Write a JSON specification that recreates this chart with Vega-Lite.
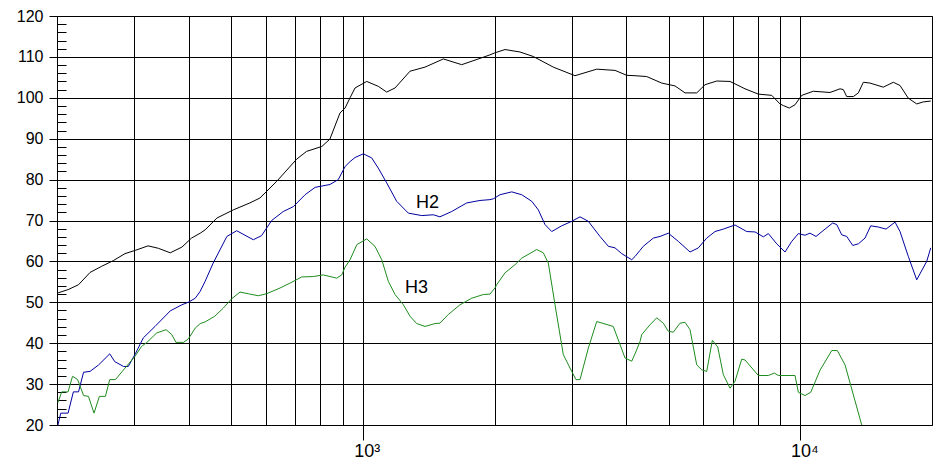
{
  "$schema": "https://vega.github.io/schema/vega-lite/v6.json",
  "width": 875,
  "height": 409,
  "autosize": {"type": "none"},
  "padding": {"left": 57, "top": 16, "right": 13, "bottom": 46},
  "background": "white",
  "config": {"view": {"stroke": "black", "strokeWidth": 1}, "font": "Liberation Sans"},
  "datasets": {
    "curves": [
      {"s":"main","f":201,"db":52.3},{"s":"main","f":212,"db":53.1},{"s":"main","f":224,"db":54.3},{"s":"main","f":238,"db":57.3},{"s":"main","f":253,"db":58.8},{"s":"main","f":269,"db":60.2},{"s":"main","f":286,"db":61.9},{"s":"main","f":302,"db":62.7},{"s":"main","f":323,"db":63.8},{"s":"main","f":341,"db":63.2},{"s":"main","f":363,"db":62.1},{"s":"main","f":386,"db":63.5},{"s":"main","f":406,"db":65.7},{"s":"main","f":425,"db":66.9},{"s":"main","f":436,"db":67.7},{"s":"main","f":464,"db":70.6},{"s":"main","f":506,"db":72.6},{"s":"main","f":552,"db":74.3},{"s":"main","f":582,"db":75.5},{"s":"main","f":636,"db":79.6},{"s":"main","f":706,"db":85.0},{"s":"main","f":744,"db":86.9},{"s":"main","f":806,"db":88.1},{"s":"main","f":841,"db":89.9},{"s":"main","f":887,"db":96.3},{"s":"main","f":911,"db":97.5},{"s":"main","f":935,"db":100.0},{"s":"main","f":960,"db":102.4},{"s":"main","f":1021,"db":104.0},{"s":"main","f":1085,"db":102.8},{"s":"main","f":1134,"db":101.4},{"s":"main","f":1185,"db":102.4},{"s":"main","f":1282,"db":106.5},{"s":"main","f":1387,"db":107.5},{"s":"main","f":1528,"db":109.5},{"s":"main","f":1683,"db":108.1},{"s":"main","f":1837,"db":109.5},{"s":"main","f":1953,"db":110.5},{"s":"main","f":2005,"db":111.0},{"s":"main","f":2114,"db":111.8},{"s":"main","f":2287,"db":111.2},{"s":"main","f":2453,"db":110.1},{"s":"main","f":2726,"db":107.5},{"s":"main","f":3055,"db":105.4},{"s":"main","f":3425,"db":107.0},{"s":"main","f":3772,"db":106.7},{"s":"main","f":4011,"db":105.5},{"s":"main","f":4190,"db":105.4},{"s":"main","f":4456,"db":105.2},{"s":"main","f":4822,"db":103.6},{"s":"main","f":5172,"db":102.9},{"s":"main","f":5452,"db":101.2},{"s":"main","f":5798,"db":101.2},{"s":"main","f":6057,"db":103.2},{"s":"main","f":6441,"db":104.1},{"s":"main","f":6908,"db":104.0},{"s":"main","f":7476,"db":102.2},{"s":"main","f":8018,"db":100.9},{"s":"main","f":8604,"db":100.6},{"s":"main","f":8988,"db":98.5},{"s":"main","f":9145,"db":98.1},{"s":"main","f":9439,"db":97.5},{"s":"main","f":9726,"db":98.3},{"s":"main","f":10075,"db":100.6},{"s":"main","f":10709,"db":101.6},{"s":"main","f":11693,"db":101.3},{"s":"main","f":12325,"db":102.2},{"s":"main","f":12541,"db":102.0},{"s":"main","f":12768,"db":100.3},{"s":"main","f":13219,"db":100.3},{"s":"main","f":13572,"db":101.2},{"s":"main","f":13934,"db":103.8},{"s":"main","f":14434,"db":103.6},{"s":"main","f":15480,"db":102.6},{"s":"main","f":16317,"db":103.8},{"s":"main","f":16902,"db":103.0},{"s":"main","f":17657,"db":99.9},{"s":"main","f":18455,"db":98.5},{"s":"main","f":19108,"db":99.0},{"s":"main","f":19866,"db":99.2},

      {"s":"H2","f":201,"db":20.0},{"s":"H2","f":204,"db":22.9},{"s":"H2","f":212,"db":22.9},{"s":"H2","f":218,"db":28.1},{"s":"H2","f":224,"db":28.1},{"s":"H2","f":230,"db":32.9},{"s":"H2","f":238,"db":33.1},{"s":"H2","f":249,"db":34.7},{"s":"H2","f":264,"db":37.4},{"s":"H2","f":271,"db":35.5},{"s":"H2","f":284,"db":34.3},{"s":"H2","f":291,"db":34.3},{"s":"H2","f":302,"db":37.4},{"s":"H2","f":315,"db":41.3},{"s":"H2","f":335,"db":44.1},{"s":"H2","f":363,"db":47.9},{"s":"H2","f":386,"db":49.4},{"s":"H2","f":399,"db":50.0},{"s":"H2","f":414,"db":51.0},{"s":"H2","f":425,"db":52.7},{"s":"H2","f":436,"db":55.1},{"s":"H2","f":455,"db":59.6},{"s":"H2","f":489,"db":66.1},{"s":"H2","f":515,"db":67.5},{"s":"H2","f":562,"db":65.3},{"s":"H2","f":587,"db":66.3},{"s":"H2","f":619,"db":70.0},{"s":"H2","f":658,"db":72.2},{"s":"H2","f":694,"db":73.4},{"s":"H2","f":738,"db":76.3},{"s":"H2","f":778,"db":78.1},{"s":"H2","f":841,"db":78.8},{"s":"H2","f":879,"db":80.0},{"s":"H2","f":911,"db":83.2},{"s":"H2","f":935,"db":84.4},{"s":"H2","f":960,"db":85.4},{"s":"H2","f":1003,"db":86.3},{"s":"H2","f":1048,"db":85.3},{"s":"H2","f":1085,"db":82.8},{"s":"H2","f":1134,"db":79.2},{"s":"H2","f":1195,"db":74.7},{"s":"H2","f":1271,"db":71.8},{"s":"H2","f":1364,"db":71.2},{"s":"H2","f":1449,"db":71.4},{"s":"H2","f":1501,"db":70.9},{"s":"H2","f":1597,"db":72.2},{"s":"H2","f":1728,"db":74.3},{"s":"H2","f":1853,"db":74.9},{"s":"H2","f":1953,"db":75.1},{"s":"H2","f":1987,"db":75.3},{"s":"H2","f":2059,"db":76.3},{"s":"H2","f":2190,"db":77.0},{"s":"H2","f":2308,"db":76.3},{"s":"H2","f":2433,"db":74.7},{"s":"H2","f":2519,"db":72.6},{"s":"H2","f":2609,"db":69.0},{"s":"H2","f":2703,"db":67.3},{"s":"H2","f":2849,"db":68.7},{"s":"H2","f":3003,"db":69.8},{"s":"H2","f":3137,"db":70.9},{"s":"H2","f":3277,"db":69.8},{"s":"H2","f":3485,"db":66.1},{"s":"H2","f":3641,"db":63.7},{"s":"H2","f":3772,"db":63.3},{"s":"H2","f":3907,"db":61.9},{"s":"H2","f":4118,"db":60.4},{"s":"H2","f":4190,"db":61.2},{"s":"H2","f":4302,"db":62.7},{"s":"H2","f":4377,"db":63.7},{"s":"H2","f":4614,"db":65.7},{"s":"H2","f":4779,"db":66.1},{"s":"H2","f":4993,"db":66.9},{"s":"H2","f":5262,"db":64.9},{"s":"H2","f":5597,"db":62.3},{"s":"H2","f":5847,"db":63.3},{"s":"H2","f":6111,"db":65.7},{"s":"H2","f":6384,"db":67.3},{"s":"H2","f":6669,"db":67.9},{"s":"H2","f":7092,"db":68.9},{"s":"H2","f":7543,"db":67.3},{"s":"H2","f":7881,"db":67.2},{"s":"H2","f":8233,"db":66.0},{"s":"H2","f":8452,"db":66.8},{"s":"H2","f":8834,"db":64.3},{"s":"H2","f":8988,"db":63.5},{"s":"H2","f":9229,"db":62.3},{"s":"H2","f":9560,"db":64.9},{"s":"H2","f":9898,"db":66.8},{"s":"H2","f":10253,"db":66.4},{"s":"H2","f":10526,"db":66.9},{"s":"H2","f":10864,"db":66.1},{"s":"H2","f":11391,"db":67.9},{"s":"H2","f":11862,"db":69.4},{"s":"H2","f":12114,"db":69.0},{"s":"H2","f":12437,"db":66.5},{"s":"H2","f":12768,"db":66.1},{"s":"H2","f":13178,"db":63.9},{"s":"H2","f":13572,"db":64.3},{"s":"H2","f":14059,"db":65.7},{"s":"H2","f":14487,"db":68.7},{"s":"H2","f":15078,"db":68.4},{"s":"H2","f":15702,"db":67.9},{"s":"H2","f":16464,"db":69.6},{"s":"H2","f":16902,"db":67.3},{"s":"H2","f":17657,"db":61.2},{"s":"H2","f":18455,"db":55.5},{"s":"H2","f":19451,"db":60.0},{"s":"H2","f":19866,"db":63.3},

      {"s":"H3","f":201,"db":25.5},{"s":"H3","f":205,"db":28.1},{"s":"H3","f":212,"db":28.1},{"s":"H3","f":217,"db":31.9},{"s":"H3","f":223,"db":31.1},{"s":"H3","f":230,"db":27.2},{"s":"H3","f":236,"db":27.0},{"s":"H3","f":243,"db":22.9},{"s":"H3","f":250,"db":27.0},{"s":"H3","f":258,"db":27.0},{"s":"H3","f":264,"db":31.1},{"s":"H3","f":272,"db":31.1},{"s":"H3","f":286,"db":33.9},{"s":"H3","f":302,"db":36.9},{"s":"H3","f":312,"db":39.2},{"s":"H3","f":321,"db":40.2},{"s":"H3","f":338,"db":42.5},{"s":"H3","f":355,"db":43.3},{"s":"H3","f":366,"db":42.1},{"s":"H3","f":374,"db":40.2},{"s":"H3","f":389,"db":40.2},{"s":"H3","f":399,"db":41.0},{"s":"H3","f":414,"db":43.7},{"s":"H3","f":425,"db":44.8},{"s":"H3","f":436,"db":45.2},{"s":"H3","f":459,"db":46.6},{"s":"H3","f":480,"db":48.6},{"s":"H3","f":502,"db":50.9},{"s":"H3","f":524,"db":52.5},{"s":"H3","f":547,"db":52.1},{"s":"H3","f":577,"db":51.6},{"s":"H3","f":603,"db":52.1},{"s":"H3","f":647,"db":53.5},{"s":"H3","f":682,"db":54.7},{"s":"H3","f":725,"db":56.2},{"s":"H3","f":771,"db":56.3},{"s":"H3","f":812,"db":56.7},{"s":"H3","f":872,"db":55.9},{"s":"H3","f":895,"db":56.7},{"s":"H3","f":911,"db":58.6},{"s":"H3","f":935,"db":60.4},{"s":"H3","f":969,"db":64.1},{"s":"H3","f":1021,"db":65.5},{"s":"H3","f":1066,"db":63.7},{"s":"H3","f":1105,"db":60.4},{"s":"H3","f":1144,"db":55.1},{"s":"H3","f":1185,"db":51.9},{"s":"H3","f":1238,"db":49.4},{"s":"H3","f":1282,"db":46.6},{"s":"H3","f":1328,"db":44.8},{"s":"H3","f":1387,"db":44.1},{"s":"H3","f":1462,"db":44.8},{"s":"H3","f":1501,"db":44.9},{"s":"H3","f":1568,"db":47.0},{"s":"H3","f":1668,"db":49.4},{"s":"H3","f":1774,"db":51.0},{"s":"H3","f":1886,"db":51.9},{"s":"H3","f":1953,"db":52.0},{"s":"H3","f":2005,"db":53.5},{"s":"H3","f":2023,"db":54.3},{"s":"H3","f":2114,"db":57.2},{"s":"H3","f":2228,"db":59.2},{"s":"H3","f":2308,"db":60.8},{"s":"H3","f":2498,"db":62.9},{"s":"H3","f":2586,"db":62.1},{"s":"H3","f":2655,"db":59.6},{"s":"H3","f":2750,"db":49.4},{"s":"H3","f":2873,"db":37.2},{"s":"H3","f":3003,"db":33.1},{"s":"H3","f":3071,"db":31.1},{"s":"H3","f":3137,"db":31.1},{"s":"H3","f":3277,"db":38.8},{"s":"H3","f":3425,"db":45.3},{"s":"H3","f":3737,"db":44.1},{"s":"H3","f":3975,"db":36.4},{"s":"H3","f":4118,"db":35.6},{"s":"H3","f":4190,"db":37.4},{"s":"H3","f":4302,"db":40.4},{"s":"H3","f":4340,"db":42.1},{"s":"H3","f":4534,"db":44.5},{"s":"H3","f":4697,"db":46.2},{"s":"H3","f":4863,"db":44.9},{"s":"H3","f":4993,"db":42.9},{"s":"H3","f":5126,"db":42.7},{"s":"H3","f":5310,"db":44.9},{"s":"H3","f":5452,"db":45.1},{"s":"H3","f":5597,"db":43.3},{"s":"H3","f":5798,"db":34.7},{"s":"H3","f":5952,"db":33.5},{"s":"H3","f":6111,"db":33.1},{"s":"H3","f":6294,"db":40.7},{"s":"H3","f":6475,"db":39.1},{"s":"H3","f":6669,"db":32.3},{"s":"H3","f":6908,"db":29.0},{"s":"H3","f":7092,"db":30.7},{"s":"H3","f":7348,"db":36.1},{"s":"H3","f":7476,"db":35.9},{"s":"H3","f":8018,"db":32.1},{"s":"H3","f":8452,"db":32.1},{"s":"H3","f":8723,"db":32.7},{"s":"H3","f":8909,"db":32.1},{"s":"H3","f":9726,"db":32.1},{"s":"H3","f":9898,"db":28.0},{"s":"H3","f":10253,"db":27.2},{"s":"H3","f":10565,"db":28.0},{"s":"H3","f":11095,"db":33.4},{"s":"H3","f":11800,"db":38.2},{"s":"H3","f":12153,"db":38.2},{"s":"H3","f":12655,"db":34.7},{"s":"H3","f":13817,"db":20.0}
    ],
    "labels": [
      {"s": "H2", "f": 1406, "db": 74.2},
      {"s": "H3", "f": 1327, "db": 53.6}
    ]
  },
  "layer": [
    {
      "data": {"name": "curves"},
      "mark": {"type": "line", "strokeWidth": 1, "clip": true},
      "encoding": {
        "x": {
          "field": "f", "type": "quantitative",
          "scale": {"type": "log", "domain": [200, 20000], "nice": false},
          "axis": {
            "orient": "bottom",
            "values": [300, 400, 500, 600, 700, 800, 900, 1000, 2000, 3000, 4000, 5000, 6000, 7000, 8000, 9000, 10000],
            "grid": true, "gridColor": "black", "gridOpacity": 1, "gridWidth": 1,
            "domain": false, "title": null,
            "labelExpr": "datum.value == 1000 ? '10³' : (datum.value == 10000 ? '10⁴' : '')",
            "labelFont": "Liberation Sans", "labelFontSize": 18, "labelColor": "black",
            "labelPadding": 2, "labelOffset": 4, "labelFlush": false, "labelOverlap": false,
            "tickSize": 15, "tickColor": "black", "tickWidth": 1,
            "tickOpacity": {"condition": {"test": "datum.value == 1000 || datum.value == 10000", "value": 1}, "value": 0}
          }
        },
        "y": {
          "field": "db", "type": "quantitative",
          "scale": {"domain": [20, 120], "nice": false, "zero": false},
          "axis": {
            "orient": "left",
            "values": [20, 30, 40, 50, 60, 70, 80, 90, 100, 110, 120],
            "grid": true, "gridColor": "black", "gridOpacity": 1, "gridWidth": 1,
            "domain": false, "title": null,
            "labelFont": "Liberation Sans", "labelFontSize": 16, "labelColor": "black",
            "labelPadding": 6,
            "tickSize": 8, "tickColor": "black", "tickWidth": 1
          }
        },
        "color": {
          "field": "s", "type": "nominal",
          "scale": {"domain": ["main", "H2", "H3"], "range": ["#000000", "#0000a0", "#1e8c1e"]},
          "legend": null
        }
      }
    },
    {
      "data": {"name": "labels"},
      "mark": {"type": "text", "font": "Liberation Sans", "fontSize": 18, "color": "black", "align": "center", "baseline": "middle"},
      "encoding": {
        "x": {"field": "f", "type": "quantitative"},
        "y": {
          "field": "db", "type": "quantitative",
          "axis": {
            "orient": "left",
            "values": [22, 24, 26, 28, 32, 34, 36, 38, 42, 44, 46, 48, 52, 54, 56, 58, 62, 64, 66, 68, 72, 74, 76, 78, 82, 84, 86, 88, 92, 94, 96, 98, 102, 104, 106, 108, 112, 114, 116, 118],
            "grid": false, "domain": false, "labels": false, "title": null,
            "tickSize": -9, "tickColor": "black", "tickWidth": 1
          }
        },
        "text": {"field": "s"}
      }
    }
  ],
  "resolve": {"axis": {"y": "independent"}}
}
